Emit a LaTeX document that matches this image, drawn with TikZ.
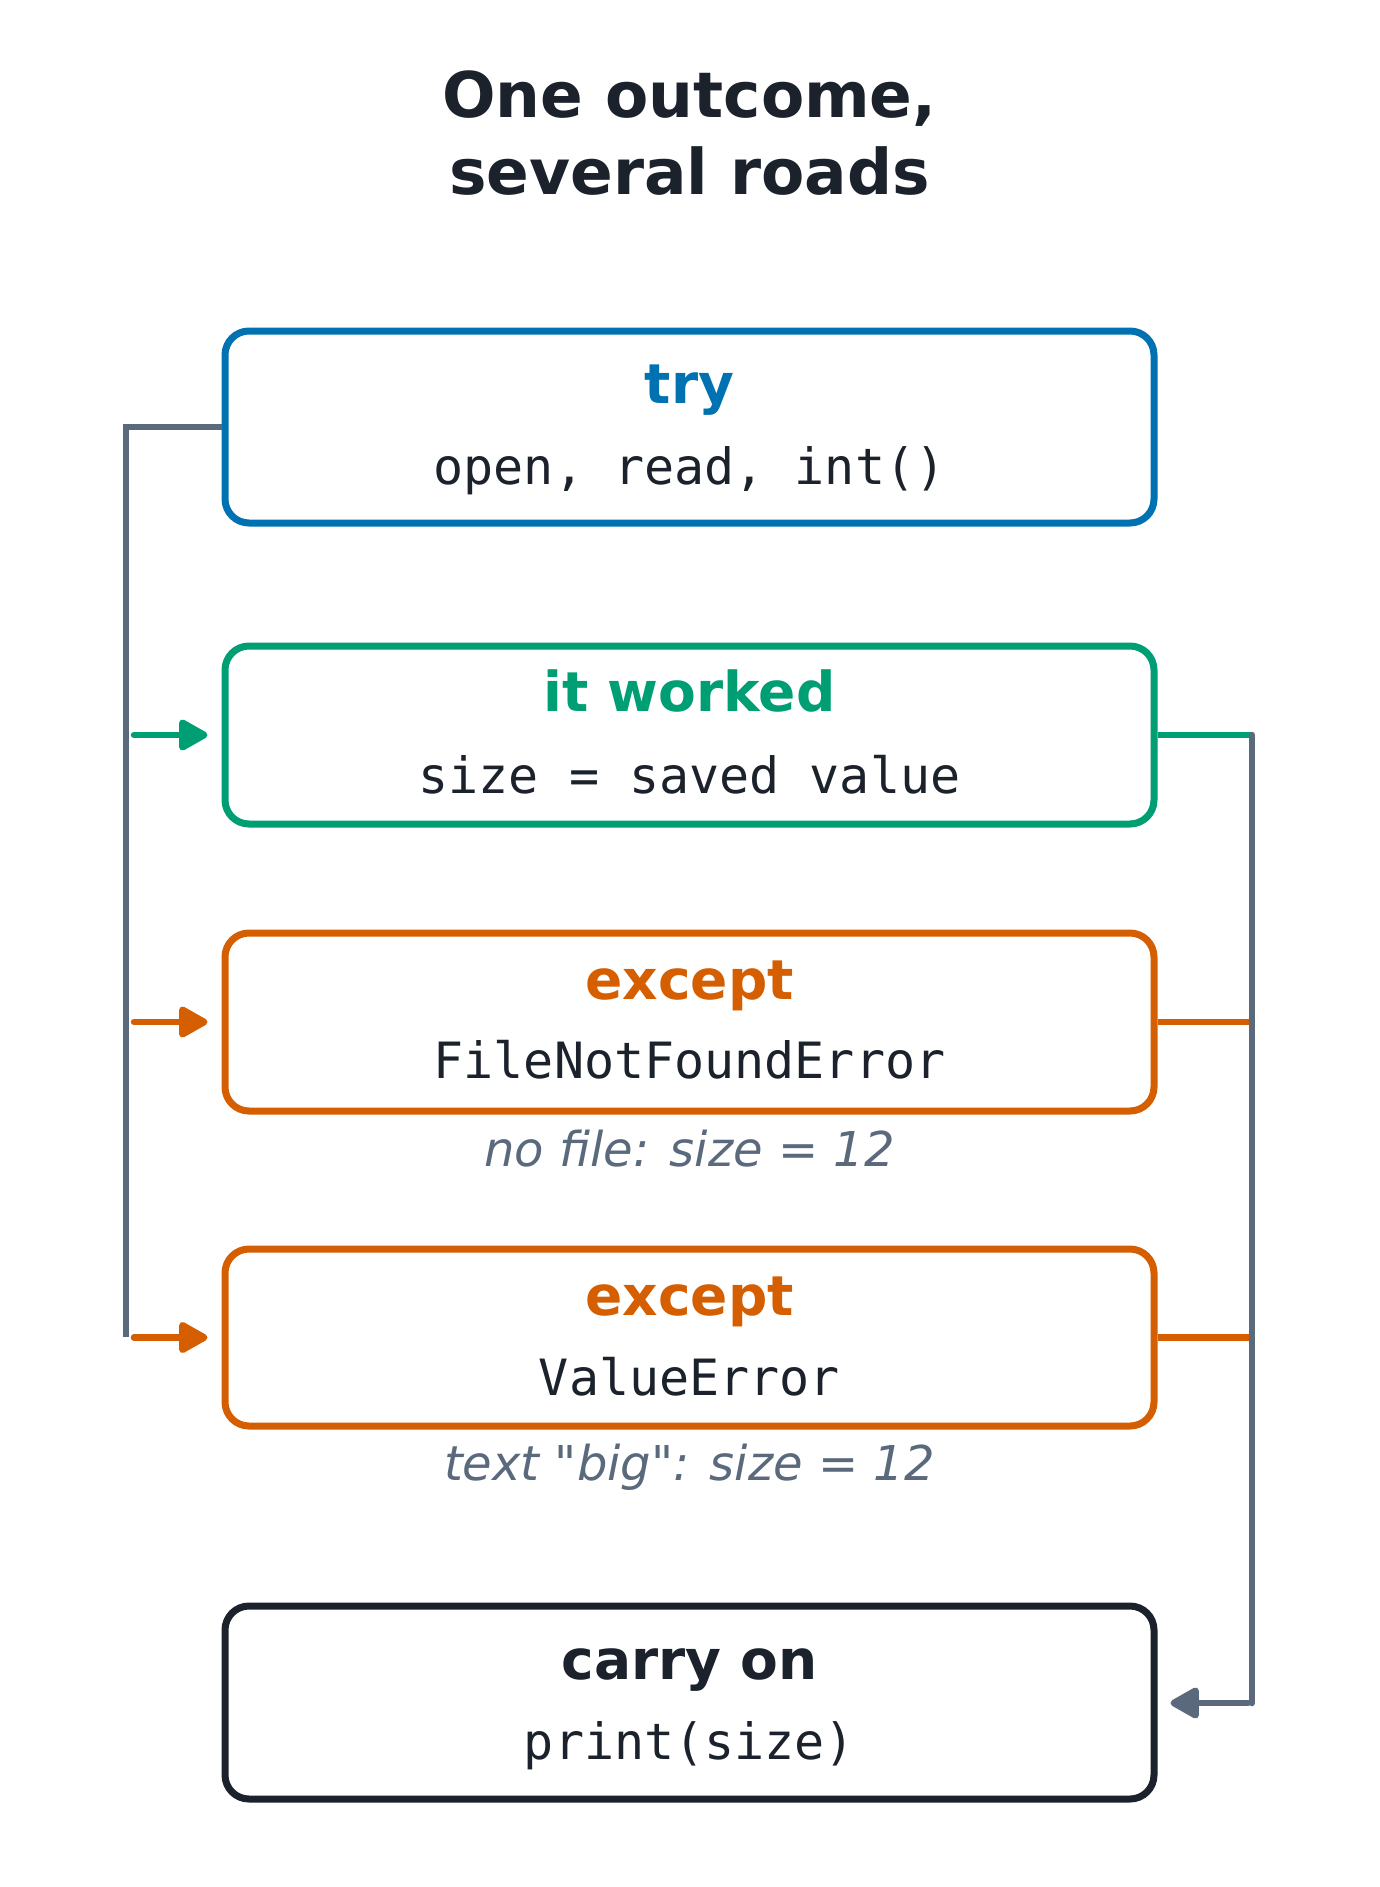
\documentclass[tikz,border=0pt]{standalone}
\usepackage{fontspec}
\setmainfont{DejaVu Sans}
\setmonofont{DejaVu Sans Mono}
\newfontfamily\notefont{DejaVu Sans}[Ligatures=TeXOff]
\usetikzlibrary{arrows.meta}
\definecolor{cblue}{HTML}{0072B2}
\definecolor{cgreen}{HTML}{009E73}
\definecolor{corange}{HTML}{D55E00}
\definecolor{cdark}{HTML}{1B222C}
\definecolor{cgray}{HTML}{5B697D}
\begin{document}
\begin{tikzpicture}[x=1pt,y=-1pt,
  box/.style={draw, line width=7pt, rounded corners=24pt, minimum width=929pt, inner sep=0pt, fill=white},
  head/.style={font=\fontsize{55}{64}\selectfont\bfseries, inner sep=0pt, text height=41pt, text depth=14pt},
  code/.style={font=\fontsize{50}{60}\selectfont\ttfamily, text=cdark, inner sep=0pt, text height=37.5pt, text depth=12.5pt},
  note/.style={font=\fontsize{48}{58}\selectfont\notefont\itshape, text=cgray, inner sep=0pt, text height=36pt, text depth=12pt},
  ttl/.style={font=\fontsize{63}{76}\selectfont\bfseries, text=cdark, inner sep=0pt, text height=47pt, text depth=16pt},
  conn/.style={line width=6.5pt, line cap=round},
  tip/.style={-{Triangle[length=32pt,width=34pt,round]}}
]
\useasboundingbox (0,0) rectangle (1379,1887);
\fill[white] (0,0) rectangle (1379,1887);

% title
\node[ttl] (t1) at (689.5,102) {One outcome,};
\node[ttl] (t2) at (689.5,179) {several roads};

% connector corners
\coordinate (lt) at (126,427);
\coordinate (lb) at (126,1337);
\coordinate (rt) at (1252,735);
\coordinate (rb) at (1252,1703);

% boxes
\node[box, draw=cblue, minimum height=192pt] (try) at (689.5,427) {};
\node[box, draw=cgreen, minimum height=178pt] (ok) at (689.5,735) {};
\node[box, draw=corange, minimum height=178pt] (ex1) at (689.5,1022) {};
\node[box, draw=corange, minimum height=177pt] (ex2) at (689.5,1337.5) {};
\node[box, draw=cdark, minimum height=193pt] (carry) at (689.5,1702.5) {};

% labels
\node[head, text=cblue] (tryh) at ([yshift=37pt]try.center) {try};
\node[code] (tryc) at ([yshift=-45pt]try.center) {open, read, int()};
\node[head, text=cgreen] (okh) at ([yshift=37pt]ok.center) {it worked};
\node[code] (okc) at ([yshift=-46pt]ok.center) {size = saved value};
\node[head, text=corange] (ex1h) at ([yshift=36pt]ex1.center) {except};
\node[code] (ex1c) at ([yshift=-44pt]ex1.center) {FileNotFoundError};
\node[note] (n1) at (689.5,1154) {no file: size = 12};
\node[head, text=corange] (ex2h) at ([yshift=36pt]ex2.center) {except};
\node[code] (ex2c) at ([yshift=-45pt]ex2.center) {ValueError};
\node[note] (n2) at (689.5,1468) {text "big": size = 12};
\node[head, text=cdark] (carryh) at ([yshift=37pt]carry.center) {carry on};
\node[code] (carryc) at ([yshift=-44pt]carry.center) {print(size)};

% left trunk
\draw[conn, cgray, line cap=butt, line join=miter] (try.west) -- (lt) -- (lb);
\draw[conn, cgreen, tip] ([xshift=8pt]lt |- ok.west) -- ([xshift=-14pt]ok.west);
\draw[conn, corange, tip] ([xshift=8pt]lt |- ex1.west) -- ([xshift=-14pt]ex1.west);
\draw[conn, corange, tip] ([xshift=8pt]lt |- ex2.west) -- ([xshift=-14pt]ex2.west);

% right trunk
\draw[conn, cgreen, line cap=butt] (ok.east) -- (rt);
\draw[conn, corange, line cap=butt] (ex1.east) -- (rt |- ex1.east);
\draw[conn, corange, line cap=butt] (ex2.east) -- (rt |- ex2.east);
\draw[conn, cgray] (rt) -- (rb);
\draw[conn, cgray, tip] ([xshift=-4pt]rb) -- ([xshift=13pt]rb -| carry.east);
\end{tikzpicture}
\end{document}
